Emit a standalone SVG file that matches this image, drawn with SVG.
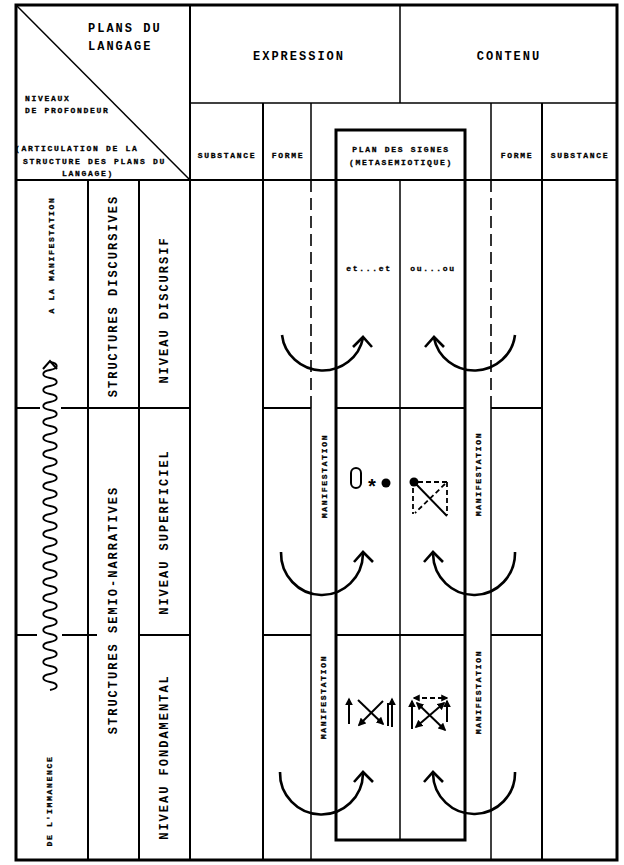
<svg xmlns="http://www.w3.org/2000/svg" width="624" height="865" viewBox="0 0 624 865">
<style>
.bg{fill:#fff}
.ln{stroke:#000;stroke-width:2;fill:none}
.thin{stroke:#000;stroke-width:1.5;fill:none}
.thick{stroke:#000;stroke-width:3;fill:none}
.dash{stroke:#000;stroke-width:1.6;fill:none;stroke-dasharray:12 6}
.big{font-family:"Liberation Mono","DejaVu Sans Mono",monospace;font-size:12px;font-weight:bold;letter-spacing:2px;fill:#000}
.sm{font-family:"Liberation Mono","DejaVu Sans Mono",monospace;font-size:8px;font-weight:bold;letter-spacing:1.7px;fill:#000;stroke:#000;stroke-width:0.3}
.arc{stroke:#000;stroke-width:2.6;fill:none}
.sym{stroke:#000;stroke-width:2;fill:none}
.symd{stroke:#000;stroke-width:1.8;fill:none;stroke-dasharray:5 3}
</style>
<defs>
<marker id="ah" viewBox="0 0 10 10" refX="8" refY="5" markerWidth="4" markerHeight="4" orient="auto-start-reverse">
<path d="M0,0 L10,5 L0,10 z" fill="#000"/>
</marker>
</defs>
<rect class="bg" x="0" y="0" width="624" height="865"/>

<g id="grid">
<rect class="thick" x="16" y="5" width="601" height="855"/>
<line class="thin" x1="16" y1="5" x2="190" y2="180"/>
<line class="ln" x1="190" y1="5" x2="190" y2="860"/>
<line class="thin" x1="400" y1="5" x2="400" y2="103"/>
<line class="thin" x1="190" y1="103" x2="617" y2="103"/>
<line class="ln" x1="16" y1="180" x2="617" y2="180"/>
<line class="ln" x1="88" y1="180" x2="88" y2="860"/>
<line class="ln" x1="139" y1="180" x2="139" y2="860"/>
<line class="ln" x1="16" y1="408" x2="40" y2="408"/>
<line class="ln" x1="61" y1="408" x2="190" y2="408"/>
<line class="ln" x1="16" y1="635" x2="37" y2="635"/>
<line class="ln" x1="62" y1="635" x2="97" y2="635"/>
<line class="ln" x1="139" y1="635" x2="190" y2="635"/>
<line class="ln" x1="263" y1="103" x2="263" y2="860"/>
<line class="thin" x1="311" y1="103" x2="311" y2="180"/>
<line class="dash" x1="311" y1="180" x2="311" y2="408"/>
<line class="thin" x1="311" y1="408" x2="311" y2="860"/>
<line class="thin" x1="491" y1="103" x2="491" y2="180"/>
<line class="dash" x1="491" y1="180" x2="491" y2="408"/>
<line class="thin" x1="491" y1="408" x2="491" y2="860"/>
<line class="ln" x1="542" y1="103" x2="542" y2="860"/>
<line class="ln" x1="263" y1="408" x2="311" y2="408"/>
<line class="ln" x1="336" y1="408" x2="465" y2="408"/>
<line class="ln" x1="491" y1="408" x2="542" y2="408"/>
<line class="ln" x1="263" y1="635" x2="311" y2="635"/>
<line class="ln" x1="336" y1="635" x2="465" y2="635"/>
<line class="ln" x1="491" y1="635" x2="542" y2="635"/>
</g>

<g id="signes-box">
<rect class="thick" x="336" y="130" width="129" height="710"/>
<line class="thin" x1="400" y1="180" x2="400" y2="840"/>
</g>

<g id="header-corner">
<text class="big" x="88" y="32">PLANS DU</text>
<text class="big" x="88" y="50">LANGAGE</text>
<text class="sm" x="25" y="101">NIVEAUX</text>
<text class="sm" x="25" y="113">DE PROFONDEUR</text>
<text class="sm" x="15" y="151">(ARTICULATION DE LA</text>
<text class="sm" x="23" y="164">STRUCTURE DES PLANS DU</text>
<text class="sm" x="62" y="176">LANGAGE)</text>
</g>

<g id="header-expression"><text class="big" x="299" y="60" text-anchor="middle">EXPRESSION</text></g>
<g id="header-contenu"><text class="big" x="509" y="60" text-anchor="middle">CONTENU</text></g>
<g id="h-substance-e"><text class="sm" x="227" y="158" text-anchor="middle">SUBSTANCE</text></g>
<g id="h-forme-e"><text class="sm" x="288" y="158" text-anchor="middle">FORME</text></g>
<g id="h-signes">
<text class="sm" x="401" y="152" text-anchor="middle">PLAN DES SIGNES</text>
<text class="sm" x="401" y="165" text-anchor="middle">(METASEMIOTIQUE)</text>
</g>
<g id="h-forme-c"><text class="sm" x="517" y="158" text-anchor="middle">FORME</text></g>
<g id="h-substance-c"><text class="sm" x="580" y="158" text-anchor="middle">SUBSTANCE</text></g>

<g id="lbl-manifestation"><text class="sm" transform="translate(51,255) rotate(-90)" text-anchor="middle" dominant-baseline="central">A LA MANIFESTATION</text></g>
<g id="lbl-immanence"><text class="sm" transform="translate(49,801) rotate(-90)" text-anchor="middle" dominant-baseline="central">DE L'IMMANENCE</text></g>
<g id="lbl-struct-disc"><text class="big" transform="translate(114,296) rotate(-90)" text-anchor="middle" dominant-baseline="central">STRUCTURES DISCURSIVES</text></g>
<g id="lbl-struct-semio"><text class="big" transform="translate(114,610) rotate(-90)" text-anchor="middle" dominant-baseline="central">STRUCTURES SEMIO-NARRATIVES</text></g>
<g id="lbl-niv-disc"><text class="big" transform="translate(165,310) rotate(-90)" text-anchor="middle" dominant-baseline="central">NIVEAU DISCURSIF</text></g>
<g id="lbl-niv-sup"><text class="big" transform="translate(165,532) rotate(-90)" text-anchor="middle" dominant-baseline="central">NIVEAU SUPERFICIEL</text></g>
<g id="lbl-niv-fond"><text class="big" transform="translate(165,757) rotate(-90)" text-anchor="middle" dominant-baseline="central">NIVEAU FONDAMENTAL</text></g>

<g id="manif-strips">
<text class="sm" transform="translate(324,476) rotate(-90)" text-anchor="middle" dominant-baseline="central">MANIFESTATION</text>
<text class="sm" transform="translate(478,474) rotate(-90)" text-anchor="middle" dominant-baseline="central">MANIFESTATION</text>
<text class="sm" transform="translate(323,697) rotate(-90)" text-anchor="middle" dominant-baseline="central">MANIFESTATION</text>
<text class="sm" transform="translate(478,692) rotate(-90)" text-anchor="middle" dominant-baseline="central">MANIFESTATION</text>
</g>

<g id="discursif-signs">
<text class="sm" x="369" y="271" text-anchor="middle">et...et</text>
<text class="sm" x="433" y="271" text-anchor="middle">ou...ou</text>
</g>

<g id="superficiel-signs">
<rect class="sym" x="351" y="468" width="10" height="20" rx="5"/>
<text x="372" y="494" text-anchor="middle" font-family="Liberation Mono, monospace" font-weight="bold" font-size="20">*</text>
<circle cx="386" cy="483" r="4.5" fill="#000"/>
<circle cx="414" cy="482" r="4.5" fill="#000"/>
<line class="symd" x1="418" y1="482" x2="447" y2="482"/>
<line class="symd" x1="447" y1="482" x2="447" y2="515"/>
<line class="symd" x1="413" y1="488" x2="413" y2="514"/>
<line class="symd" x1="445" y1="484" x2="415" y2="513"/>
<line class="sym" x1="414" y1="482" x2="447" y2="516"/>
</g>

<g id="fondamental-signs">
<line class="sym" x1="349" y1="724" x2="349" y2="699" marker-end="url(#ah)"/>
<line class="sym" x1="358" y1="700" x2="383" y2="724" marker-end="url(#ah)"/>
<line class="sym" x1="383" y1="701" x2="359" y2="725" marker-end="url(#ah)"/>
<line class="sym" x1="388" y1="726" x2="388" y2="703"/>
<line class="sym" x1="392" y1="727" x2="392" y2="699" marker-end="url(#ah)"/>
<line class="symd" x1="414" y1="698" x2="447" y2="698" marker-start="url(#ah)" marker-end="url(#ah)"/>
<line class="sym" x1="412" y1="729" x2="412" y2="701" marker-end="url(#ah)"/>
<line class="sym" x1="447" y1="722" x2="447" y2="701" marker-end="url(#ah)"/>
<line class="sym" x1="417" y1="703" x2="445" y2="730" marker-start="url(#ah)" marker-end="url(#ah)"/>
<line class="sym" x1="444" y1="703" x2="416" y2="727" marker-start="url(#ah)" marker-end="url(#ah)"/>
</g>

<g id="connectors">
<path class="thin" style="stroke-width:1.8" d="M50,690 c9,-1.5 9,-6.5 0,-8 s-9,-6.5 0,-8 s9,-6.5 0,-8 s-9,-6.5 0,-8 s9,-6.5 0,-8 s-9,-6.5 0,-8 s9,-6.5 0,-8 s-9,-6.5 0,-8 s9,-6.5 0,-8 s-9,-6.5 0,-8 s9,-6.5 0,-8 s-9,-6.5 0,-8 s9,-6.5 0,-8 s-9,-6.5 0,-8 s9,-6.5 0,-8 s-9,-6.5 0,-8 s9,-6.5 0,-8 s-9,-6.5 0,-8 s9,-6.5 0,-8 s-9,-6.5 0,-8 s9,-6.5 0,-8 s-9,-6.5 0,-8 s9,-6.5 0,-8 s-9,-6.5 0,-8 s9,-6.5 0,-8 s-9,-6.5 0,-8 s9,-6.5 0,-8 s-9,-6.5 0,-8 s9,-6.5 0,-8 s-9,-6.5 0,-8 s9,-6.5 0,-8 s-9,-6.5 0,-8 s9,-6.5 0,-8 s-9,-6.5 0,-8 s9,-6.5 0,-8 s-9,-6.5 0,-8 s9,-6.5 0,-8 s-9,-6.5 0,-8 s9,-6.5 0,-8 s-9,-6.5 0,-8 s9,-6.5 0,-8"/>
<path class="ln" d="M43,369 L50,361 L57,369"/>
<path class="arc" d="M282,335 A41,40 0 0 0 363,338"/>
<path class="arc" d="M353,347 L363,337 L372,347"/>
<path class="arc" d="M515,335 A41,40 0 0 1 434,338"/>
<path class="arc" d="M425,347 L434,337 L444,347"/>
<path class="arc" d="M281,552 A41,42 0 0 0 363,554"/>
<path class="arc" d="M354,562 L363,552 L373,562"/>
<path class="arc" d="M515,552 A41,42 0 0 1 433,554"/>
<path class="arc" d="M424,562 L433,552 L443,562"/>
<path class="arc" d="M280,772 A41,41 0 0 0 363,774"/>
<path class="arc" d="M354,782 L363,772 L373,782"/>
<path class="arc" d="M515,772 A41,41 0 0 1 433,774"/>
<path class="arc" d="M424,782 L433,772 L443,782"/>
</g>
</svg>
